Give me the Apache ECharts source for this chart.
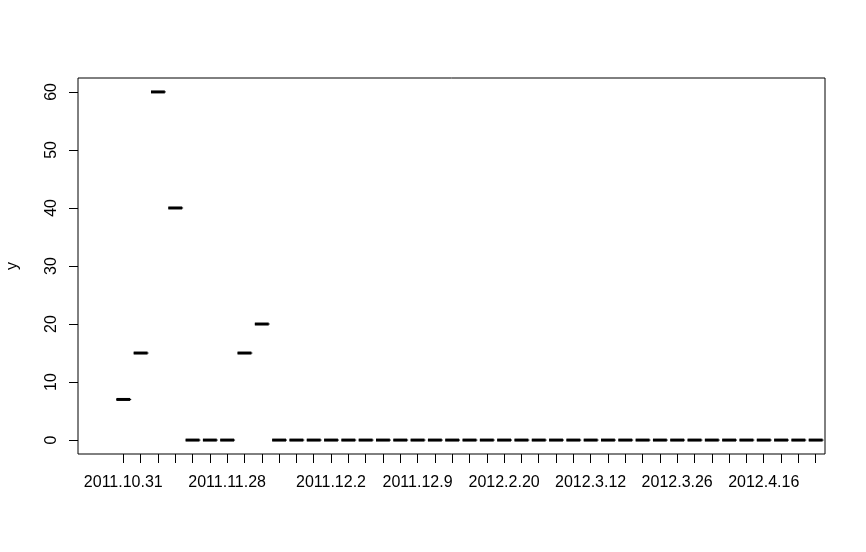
<!DOCTYPE html>
<html>
<head>
<meta charset="utf-8">
<script src="https://cdn.jsdelivr.net/npm/echarts@6/dist/echarts.min.js"></script>
<style>html,body{margin:0;padding:0;background:#fff;}#c{width:866px;height:552px;}</style>
</head>
<body>
<div id="c"></div>
<script>
// Category positions 1..41 (one per level)
const positions = [1,2,3,4,5,6,7,8,9,10,11,12,13,14,15,16,17,18,19,20,21,22,23,24,25,26,27,28,29,30,31,32,33,34,35,36,37,38,39,40,41];
const values = [7,15,60,40,0,0,0,15,20,0,0,0,0,0,0,0,0,0,0,0,0,0,0,0,0,0,0,0,0,0,0,0,0,0,0,0,0,0,0,0,0];
// Visible tick labels and the positions where they appear
const tickLabels = ['2011.10.31','2011.11.28','2011.12.2','2011.12.9','2012.2.20','2012.3.12','2012.3.26','2012.4.16'];
const tickLabelPos = [1,7,13,18,23,28,33,38];
const yTicks = [0,10,20,30,40,50,60];

const FONT = 'Liberation Sans, Arial, sans-serif';
const chart = echarts.init(document.getElementById('c'), null, {renderer:'canvas'});
const data = positions.map((p,i)=>[p, values[i]]);
const labelMap = {};
tickLabelPos.forEach((p,i)=>{labelMap[p]=tickLabels[i];});

chart.setOption({
  animation:false,
  backgroundColor:'#fff',
  grid:{left:78, top:78, width:747, height:376, show:true, borderColor:'#000', borderWidth:1, backgroundColor:'transparent', containLabel:false, outerBoundsMode:'none'},
  xAxis:{
    type:'value', min:-1.617, max:41.54,
    axisLine:{show:false, onZero:false},
    splitLine:{show:false},
    axisTick:{show:true, length:9, customValues:positions, lineStyle:{color:'#000', width:1}},
    axisLabel:{show:true, customValues:tickLabelPos, formatter:(v)=>labelMap[v]||'', color:'#000', fontSize:16, fontFamily:FONT, margin:21}
  },
  yAxis:{
    type:'value', min:-2.4, max:62.4,
    name:'y', nameLocation:'middle', nameGap:57, nameRotate:90,
    nameTextStyle:{color:'#000', fontSize:16, fontFamily:FONT},
    axisLine:{show:false, onZero:false},
    splitLine:{show:false},
    axisTick:{show:true, length:9, customValues:yTicks, lineStyle:{color:'#000', width:1}},
    axisLabel:{show:true, customValues:yTicks, rotate:90, color:'#000', fontSize:16, fontFamily:FONT, margin:18}
  },
  series:[{
    type:'custom',
    data:data,
    renderItem:function(params, api){
      const c = api.coord([api.value(0), api.value(1)]);
      const w = api.size([0.8, 0])[0];
      return {
        type:'group',
        children:[
          {type:'rect', shape:{x:c[0]-w/2, y:c[1]-1.5, width:w, height:3}, style:{fill:'#000'}},
          {type:'line', shape:{x1:c[0]-w/2, y1:c[1], x2:c[0]+w/2+1, y2:c[1]}, style:{stroke:'#000', lineWidth:1}}
        ]
      };
    }
  }]
});
</script>
</body>
</html>
